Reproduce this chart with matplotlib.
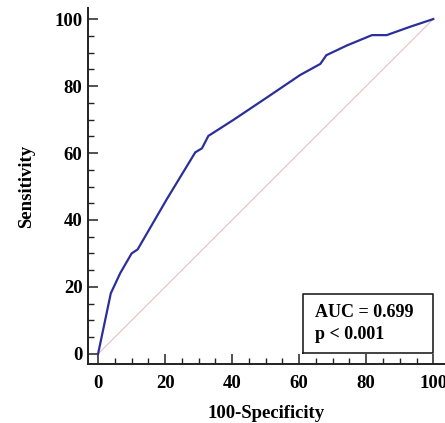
import numpy as np
import matplotlib.pyplot as plt
from matplotlib.ticker import MultipleLocator

# Pontos da curva ROC
fpr = [0, 3.8, 6.6, 10.0, 11.8, 20.5, 29.0, 31.0, 32.9, 40.4, 50.4, 60.3, 66.3, 68.1, 74.2, 81.7, 86.1, 93.1, 100]
tpr = [0, 18.1, 24.1, 30.0, 31.2, 46.2, 60.2, 61.4, 65.1, 69.9, 76.6, 83.3, 86.6, 89.2, 92.1, 95.2, 95.2, 97.7, 100]
diag = [0, 100]
auc_text = ['AUC = 0.699', 'p < 0.001']

plt.rcParams['font.family'] = ['Liberation Serif', 'DejaVu Serif']
plt.rcParams['font.weight'] = 'bold'

fig = plt.figure(figsize=(4.45, 4.23), dpi=100)
ax = fig.add_axes([88 / 445, 59 / 423, 357 / 445, 356 / 423])

ax.plot(diag, diag, color='#e3b8c0', linewidth=0.7)
ax.plot(fpr, tpr, color='#2b2f9a', linewidth=1.6)

ax.set_xlim(-3, 103.5)
ax.set_ylim(-3, 103.3)
ax.spines['top'].set_visible(False)
ax.spines['right'].set_visible(False)
for s in ['left', 'bottom']:
    ax.spines[s].set_linewidth(1.4)
    ax.spines[s].set_color('#222222')

ax.xaxis.set_major_locator(MultipleLocator(20))
ax.xaxis.set_minor_locator(MultipleLocator(5))
ax.yaxis.set_major_locator(MultipleLocator(20))
ax.yaxis.set_minor_locator(MultipleLocator(5))
ax.tick_params(which='major', direction='in', length=7, width=1.1, labelsize=13.5, pad=8, color='#222222')
ax.tick_params(which='minor', direction='in', length=4, width=1.0, color='#222222')
ax.tick_params(axis='y', pad=4)
for lab in ax.get_xticklabels() + ax.get_yticklabels():
    lab.set_fontweight('bold')

ax.set_xlabel('100-Specificity', fontsize=13.5, fontweight='bold', labelpad=9)
ax.set_ylabel('Sensitivity', fontsize=13.5, fontweight='bold', labelpad=14)

# caixa com AUC
ax.plot([61.1, 100, 100, 61.1, 61.1], [0.2, 0.2, 17.8, 17.8, 0.2], color='#222222', linewidth=1.2)
ax.text(64.8, 12.3, auc_text[0], fontsize=13, fontweight='bold', va='center')
ax.text(64.8, 5.7, auc_text[1], fontsize=13, fontweight='bold', va='center')

fig.savefig('out.png', dpi=100)
